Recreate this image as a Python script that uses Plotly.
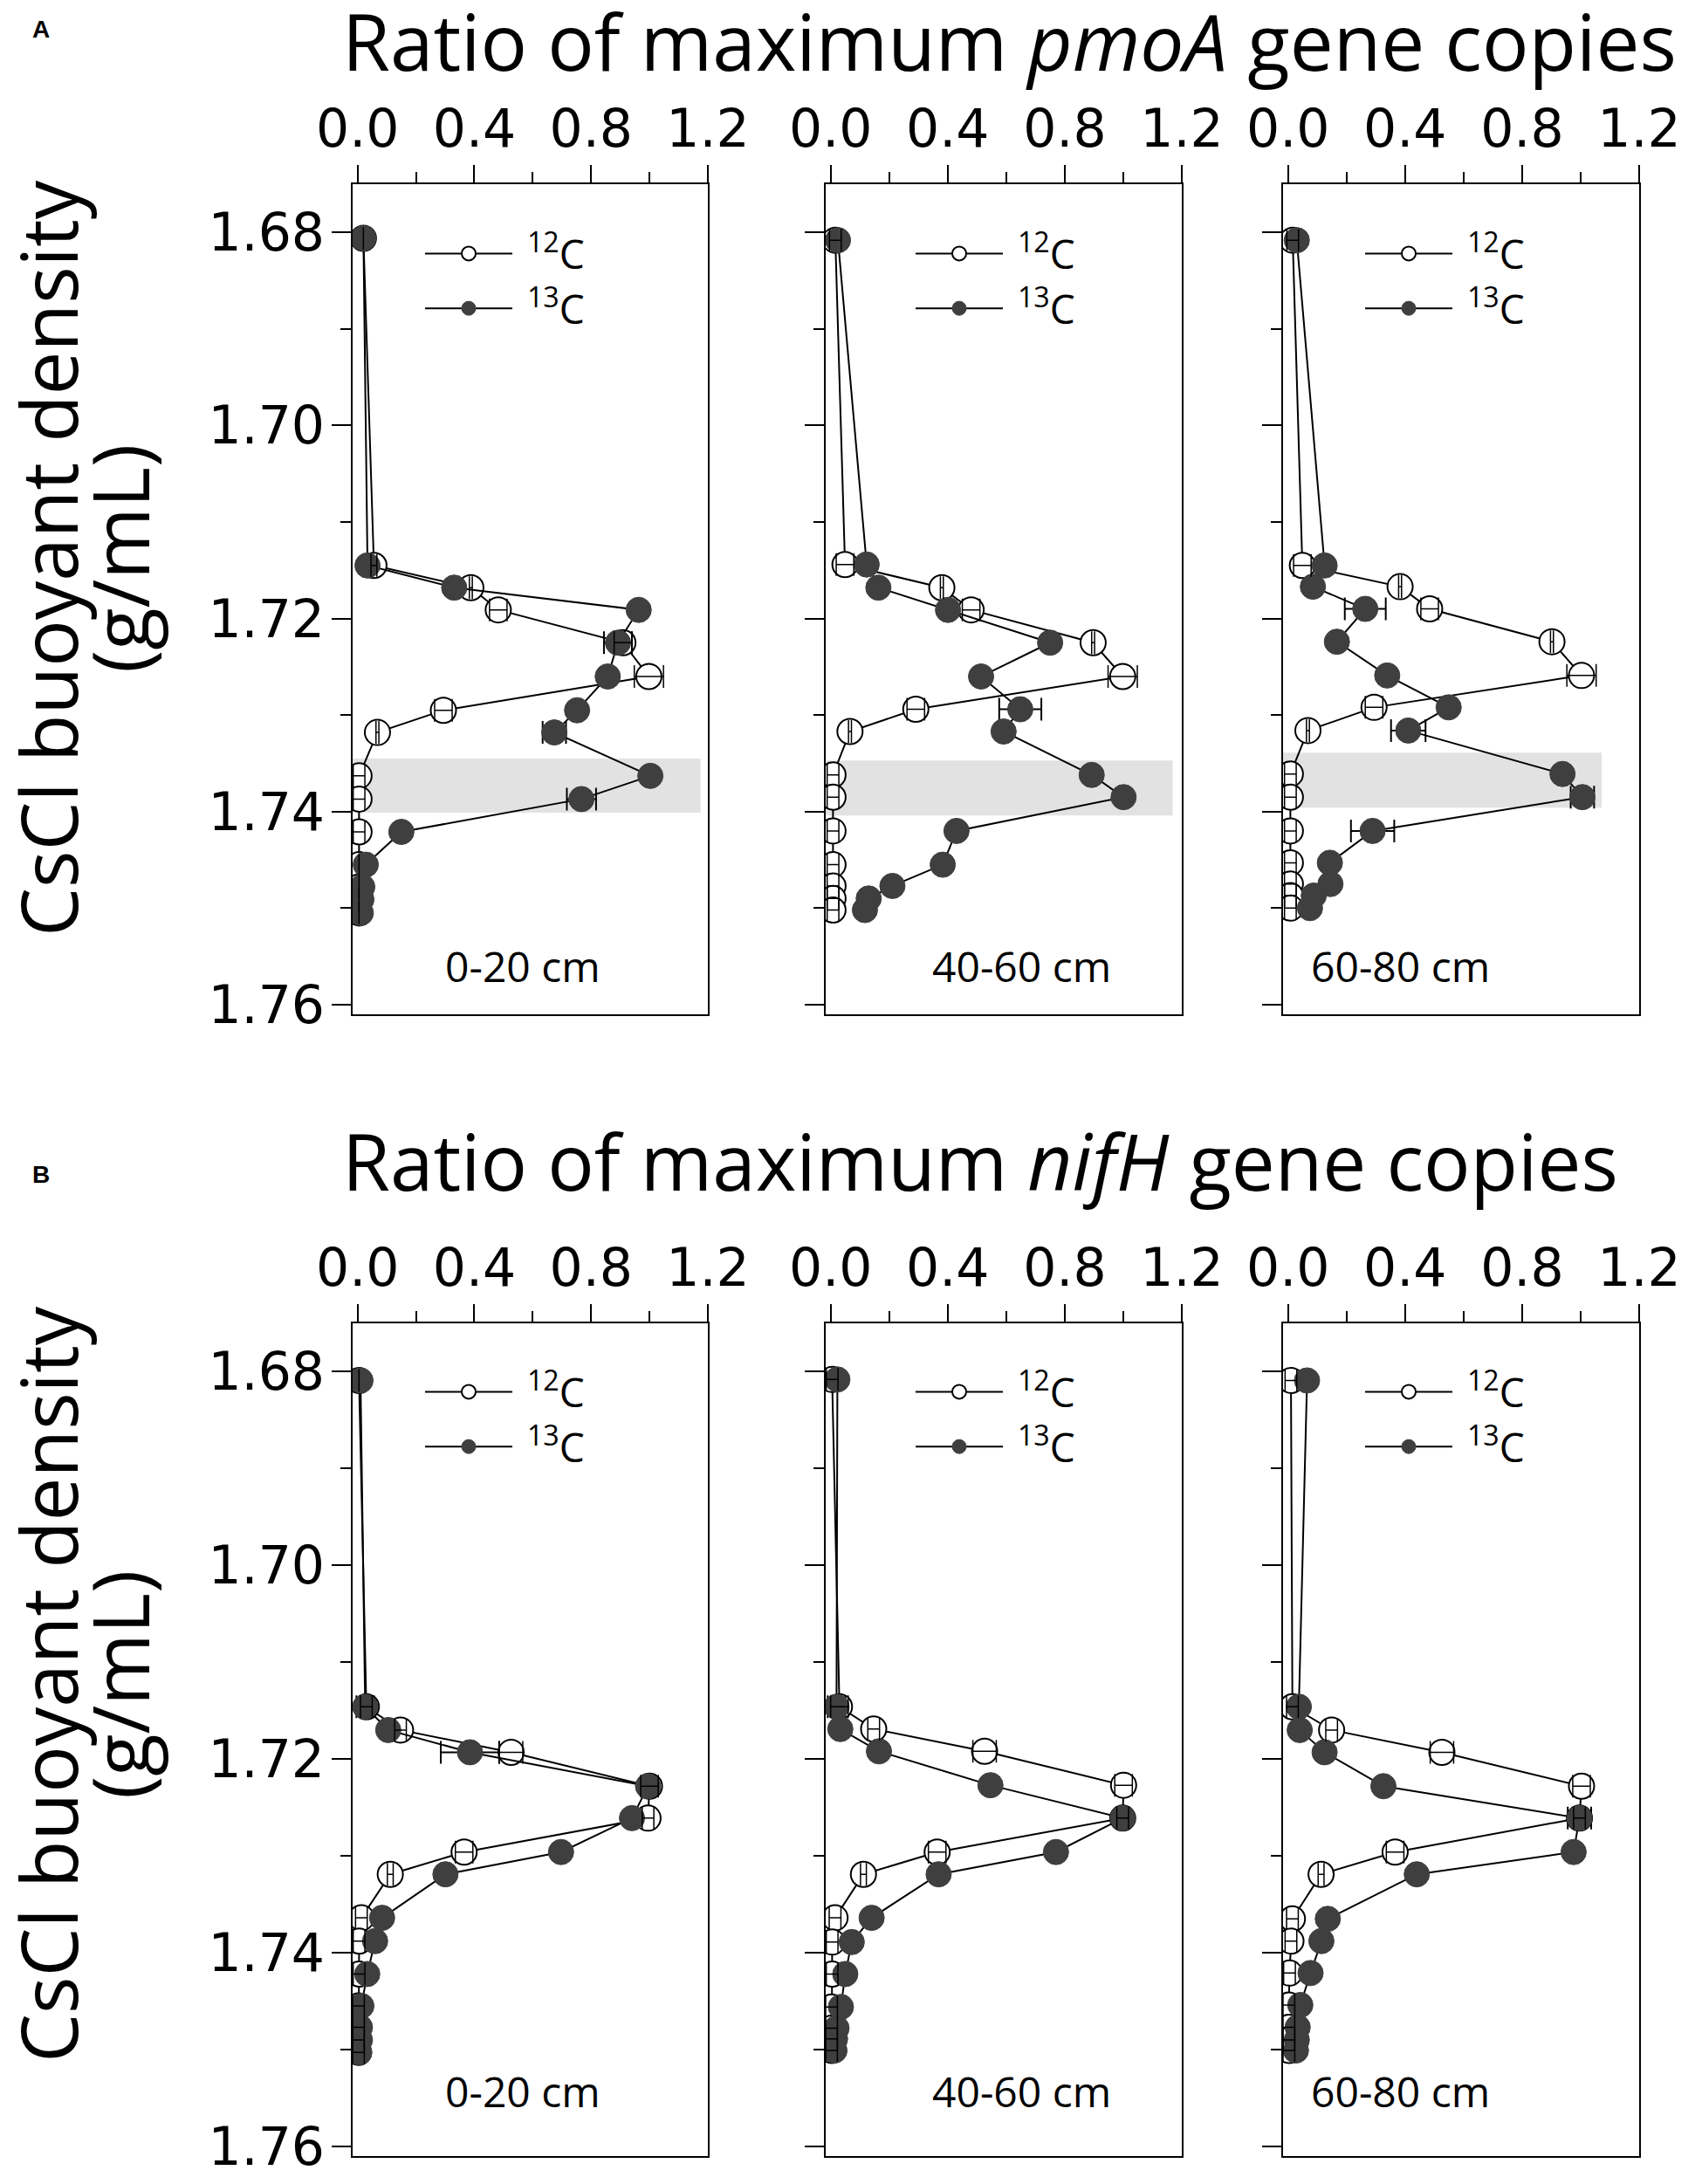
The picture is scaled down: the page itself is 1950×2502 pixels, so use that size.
import plotly.graph_objects as go

# fraction densities (g/mL) and ratio of max gene copies
# row A: pmoA, row B: nifH; columns: 0-20, 40-60, 60-80 cm
dens_a1 = [1.6806, 1.7145, 1.7168, 1.7191, 1.7225, 1.7260, 1.7295, 1.7318, 1.7363, 1.7387, 1.7421, 1.7455, 1.7478, 1.7491, 1.7505]
c12_a1 = [0.020, 0.056, 0.388, 0.482, 0.909, 0.998, 0.294, 0.068, 0.005, 0.005, 0.005, 0.005, 0.005, 0.005, 0.005]
c13_a1 = [0.020, 0.034, 0.331, 0.963, 0.892, 0.857, 0.752, 0.674, 1.003, 0.767, 0.150, 0.028, 0.016, 0.013, 0.011]
e12_a1 = [0.0, 0.01, 0.005, 0.03, 0.03, 0.05, 0.03, 0.005, 0.02, 0.02, 0.02, 0.0, 0.0, 0.0, 0.0]
e13_a1 = [0.0, 0.0, 0.0, 0.0, 0.048, 0.0, 0.0, 0.04, 0.0, 0.05, 0.0, 0.0, 0.0, 0.0, 0.0]

dens_a2 = [1.6808, 1.7144, 1.7168, 1.7191, 1.7225, 1.7260, 1.7294, 1.7317, 1.7362, 1.7385, 1.7420, 1.7455, 1.7477, 1.7490, 1.7502]
c12_a2 = [0.016, 0.049, 0.380, 0.480, 0.897, 0.998, 0.291, 0.066, 0.008, 0.008, 0.008, 0.008, 0.008, 0.008, 0.008]
c13_a2 = [0.025, 0.123, 0.163, 0.401, 0.750, 0.514, 0.648, 0.591, 0.892, 1.001, 0.430, 0.383, 0.211, 0.130, 0.117]
e12_a2 = [0.02, 0.03, 0.005, 0.03, 0.005, 0.05, 0.03, 0.005, 0.02, 0.02, 0.02, 0.02, 0.02, 0.02, 0.02]
e13_a2 = [0.0, 0.0, 0.0, 0.0, 0.0, 0.0, 0.072, 0.0, 0.0, 0.0, 0.0, 0.0, 0.0, 0.0, 0.0]

dens_a3 = [1.6808, 1.7145, 1.7167, 1.7190, 1.7224, 1.7259, 1.7292, 1.7316, 1.7361, 1.7385, 1.7420, 1.7453, 1.7475, 1.7487, 1.7500]
c12_a3 = [0.016, 0.049, 0.383, 0.484, 0.902, 1.003, 0.294, 0.068, 0.008, 0.008, 0.008, 0.008, 0.008, 0.008, 0.008]
c13_a3 = [0.030, 0.125, 0.085, 0.264, 0.167, 0.339, 0.549, 0.411, 0.938, 1.006, 0.289, 0.143, 0.145, 0.088, 0.075]
e12_a3 = [0.02, 0.03, 0.005, 0.03, 0.005, 0.05, 0.03, 0.005, 0.02, 0.02, 0.02, 0.02, 0.02, 0.02, 0.02]
e13_a3 = [0.0, 0.0, 0.0, 0.07, 0.0, 0.0, 0.0, 0.059, 0.0, 0.04, 0.074, 0.0, 0.0, 0.0, 0.0]

dens_b1 = [1.6809, 1.7146, 1.7170, 1.7193, 1.7228, 1.7261, 1.7296, 1.7319, 1.7364, 1.7388, 1.7422, 1.7455, 1.7477, 1.7490, 1.7503]
c12_b1 = [0.005, 0.030, 0.147, 0.526, 1.000, 0.995, 0.365, 0.112, 0.013, 0.005, 0.005, 0.003, 0.003, 0.003, 0.003]
c13_b1 = [0.010, 0.026, 0.105, 0.385, 0.995, 0.940, 0.697, 0.301, 0.084, 0.060, 0.033, 0.013, 0.008, 0.008, 0.006]
e12_b1 = [0.0, 0.02, 0.02, 0.04, 0.03, 0.02, 0.03, 0.01, 0.02, 0.02, 0.02, 0.02, 0.02, 0.02, 0.02]
e13_b1 = [0.0, 0.03, 0.0, 0.10, 0.02, 0.0, 0.0, 0.0, 0.0, 0.0, 0.0, 0.0, 0.0, 0.0, 0.0]

dens_b2 = [1.6808, 1.7146, 1.7169, 1.7192, 1.7227, 1.7261, 1.7296, 1.7319, 1.7364, 1.7389, 1.7422, 1.7456, 1.7478, 1.7489, 1.7501]
c12_b2 = [0.005, 0.030, 0.147, 0.526, 1.001, 0.998, 0.364, 0.112, 0.015, 0.005, 0.005, 0.003, 0.003, 0.003, 0.003]
c13_b2 = [0.023, 0.020, 0.033, 0.165, 0.546, 0.998, 0.770, 0.369, 0.140, 0.072, 0.050, 0.035, 0.020, 0.015, 0.013]
e12_b2 = [0.02, 0.03, 0.02, 0.04, 0.03, 0.02, 0.03, 0.01, 0.02, 0.02, 0.02, 0.02, 0.02, 0.02, 0.02]
e13_b2 = [0.0, 0.03, 0.0, 0.0, 0.0, 0.02, 0.0, 0.0, 0.0, 0.0, 0.0, 0.0, 0.0, 0.0, 0.0]

dens_b3 = [1.6809, 1.7146, 1.7170, 1.7193, 1.7228, 1.7261, 1.7296, 1.7319, 1.7365, 1.7388, 1.7421, 1.7454, 1.7477, 1.7490, 1.7501]
c12_b3 = [0.010, 0.015, 0.149, 0.526, 1.003, 0.996, 0.366, 0.113, 0.015, 0.010, 0.005, 0.003, 0.003, 0.003, 0.003]
c13_b3 = [0.065, 0.037, 0.040, 0.125, 0.326, 0.996, 0.976, 0.440, 0.136, 0.114, 0.077, 0.042, 0.033, 0.030, 0.027]
e12_b3 = [0.02, 0.02, 0.02, 0.04, 0.03, 0.02, 0.03, 0.01, 0.02, 0.02, 0.02, 0.02, 0.02, 0.02, 0.02]
e13_b3 = [0.0, 0.0, 0.0, 0.0, 0.0, 0.04, 0.0, 0.0, 0.0, 0.0, 0.0, 0.0, 0.0, 0.0, 0.0]

# shaded heavy fractions in row A (density range and how far the band reaches)
band_top = [1.7345, 1.7347, 1.7339]
band_bottom = [1.7401, 1.7404, 1.7396]
band_right = [1.175, 1.169, 1.072]

depth_labels = ['0-20 cm', '40-60 cm', '60-80 cm']
gene_names = ['pmoA', 'nifH']
series_names = ['\u00a0<sup>12</sup>C', '\u00a0<sup>13</sup>C']

panels = [
    (dens_a1, c12_a1, c13_a1, e12_a1, e13_a1),
    (dens_a2, c12_a2, c13_a2, e12_a2, e13_a2),
    (dens_a3, c12_a3, c13_a3, e12_a3, e13_a3),
    (dens_b1, c12_b1, c13_b1, e12_b1, e13_b1),
    (dens_b2, c12_b2, c13_b2, e12_b2, e13_b2),
    (dens_b3, c12_b3, c13_b3, e12_b3, e13_b3),
]

W, H = 1950, 2502
col_px = [(404, 811), (946, 1354), (1470, 1878)]
row_px = [(211, 1162), (1516, 2470)]
fill_dark = '#3f3f3f'
tick_font = dict(family='DejaVu Sans', size=60, color='black')
text_font = 'Open Sans'

fig = go.Figure()

for i, (dens, c12, c13, e12, e13) in enumerate(panels):
    n = i + 1
    xa = 'x' if n == 1 else f'x{n}'
    ya = 'y' if n == 1 else f'y{n}'
    lg = 'legend' if n == 1 else f'legend{n}'

    fig.add_trace(go.Scatter(
        x=c12, y=dens, mode='lines+markers', name=series_names[0],
        xaxis=xa, yaxis=ya, legend=lg,
        line=dict(color='black', width=2),
        marker=dict(size=29, color='white', line=dict(color='black', width=2)),
    ))
    fig.add_trace(go.Scatter(
        x=c13, y=dens, mode='lines+markers', name=series_names[1],
        xaxis=xa, yaxis=ya, legend=lg,
        line=dict(color='black', width=2),
        marker=dict(size=29, color=fill_dark, line=dict(color=fill_dark, width=1)),
        error_x=dict(type='data', array=e13, color='black', thickness=2, width=13),
    ))
    # 12C error bars drawn over the markers (gives the crossed-circle look)
    fig.add_trace(go.Scatter(
        x=c12, y=dens, mode='markers', showlegend=False,
        xaxis=xa, yaxis=ya,
        marker=dict(size=1, color='rgba(0,0,0,0)'),
        error_x=dict(type='data', array=e12, color='black', thickness=1.5, width=13),
        hoverinfo='skip',
    ))

layout = dict(
    width=W, height=H,
    margin=dict(l=0, r=0, t=0, b=0, autoexpand=False),
    paper_bgcolor='white', plot_bgcolor='white',
    showlegend=True,
)

for i in range(6):
    n = i + 1
    r, c = divmod(i, 3)
    x0, x1 = col_px[c]
    y0, y1 = row_px[r]
    xkey = 'xaxis' if n == 1 else f'xaxis{n}'
    ykey = 'yaxis' if n == 1 else f'yaxis{n}'
    ya = 'y' if n == 1 else f'y{n}'
    xa = 'x' if n == 1 else f'x{n}'
    layout[xkey] = dict(
        domain=[x0 / W, x1 / W], anchor=ya, side='top',
        range=[-0.017, 1.2], tick0=0, dtick=0.4, tickformat='.1f',
        ticks='outside', ticklen=20, tickwidth=2, tickcolor='black',
        minor=dict(dtick=0.2, tick0=0, ticks='outside', ticklen=12, tickwidth=2, tickcolor='black'),
        showline=True, linecolor='black', linewidth=2, mirror=True,
        showgrid=False, zeroline=False, tickfont=tick_font, ticklabelstandoff=-3,
        automargin=False,
    )
    layout[ykey] = dict(
        domain=[1 - y1 / H, 1 - y0 / H], anchor=xa,
        range=[1.761, 1.675], tick0=1.68, dtick=0.02, tickformat='.2f',
        ticks='outside', ticklen=22, tickwidth=2, tickcolor='black',
        minor=dict(dtick=0.01, tick0=1.68, ticks='outside', ticklen=12, tickwidth=2, tickcolor='black'),
        showline=True, linecolor='black', linewidth=2, mirror=True,
        showgrid=False, zeroline=False, tickfont=tick_font,
        showticklabels=(c == 0), ticklabelstandoff=-4, automargin=False,
    )
    lkey = 'legend' if n == 1 else f'legend{n}'
    legend_x = [482, 1044, 1559][c] / W
    legend_y = 1 - ([254, 1558][r]) / H
    layout[lkey] = dict(
        x=legend_x, y=legend_y, xanchor='left', yanchor='top',
        bgcolor='rgba(0,0,0,0)', borderwidth=0,
        font=dict(family=text_font, size=46, color='black'),
        itemwidth=100, tracegroupgap=0, traceorder='normal',
    )

fig.update_layout(**layout)

# grey band over the heavy fractions in the pmoA panels
for c in range(3):
    n = c + 1
    xa = 'x' if n == 1 else f'x{n}'
    ya = 'y' if n == 1 else f'y{n}'
    fig.add_shape(
        type='rect', xref=xa, yref=ya, layer='below',
        x0=-0.017, x1=band_right[c], y0=band_top[c], y1=band_bottom[c],
        fillcolor='#e2e2e2', line=dict(width=0),
    )

annotations = []
for r, gene in enumerate(gene_names):
    # panel title
    annotations.append(dict(
        text=f'Ratio of maximum <i>{gene}</i> gene copies',
        xref='paper', yref='paper', x=390 / W, y=1 - [46, 1330][r] / H,
        xanchor='left', yanchor='middle', showarrow=False,
        font=dict(family=text_font, size=89, color='black'),
    ))
    # y axis title, two separate lines
    yc = 1 - [640, 1930][r] / H
    annotations.append(dict(
        text='CsCl buoyant density', textangle=-90,
        xref='paper', yref='paper', x=54 / W, y=yc,
        xanchor='center', yanchor='middle', showarrow=False,
        font=dict(family=text_font, size=89, color='black'),
    ))
    annotations.append(dict(
        text='(g/mL)', textangle=-90,
        xref='paper', yref='paper', x=136 / W, y=yc,
        xanchor='center', yanchor='middle', showarrow=False,
        font=dict(family=text_font, size=89, color='black'),
    ))
    annotations.append(dict(
        text='<b>' + 'AB'[r] + '</b>',
        xref='paper', yref='paper', x=47 / W, y=1 - [33, 1346][r] / H,
        xanchor='center', yanchor='middle', showarrow=False,
        font=dict(family='Liberation Sans', size=28, color='black'),
    ))

# depth labels inside each panel
for i in range(6):
    n = i + 1
    r, c = divmod(i, 3)
    annotations.append(dict(
        text=depth_labels[c],
        xref=('x' if n == 1 else f'x{n}') + ' domain',
        yref=('y' if n == 1 else f'y{n}') + ' domain',
        x=[0.48, 0.55, 0.33][c], y=[0.058, 0.078][r],
        xanchor='center', yanchor='middle', showarrow=False,
        font=dict(family=text_font, size=48, color='black'),
    ))

fig.update_layout(annotations=annotations)

fig.write_html("out.html", config={'displayModeBar': False},
               post_script="document.body.style.margin='0';")
